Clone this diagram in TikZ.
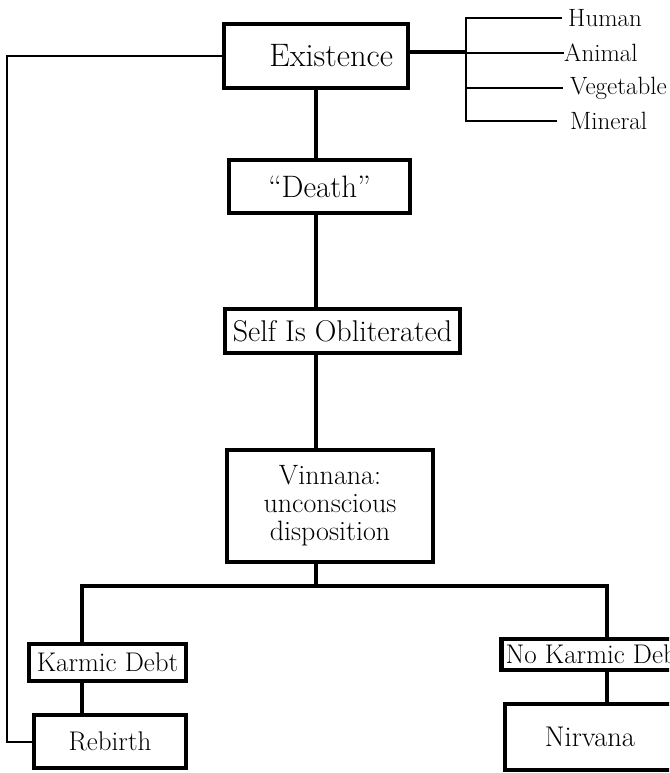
\documentclass[tikz,border=0pt]{standalone}
\begin{document}
\begin{tikzpicture}[x=1pt,y=-1pt,
  box/.style={draw,line width=4.5pt,fill=white,inner sep=3pt,align=center},
  link/.style={line width=4pt},
  twig/.style={line width=2.5pt},
  kind/.style={anchor=west,inner sep=0pt,font=\fontsize{25}{27}\selectfont}]
  \useasboundingbox (0,0) rectangle (669,773);
  \clip (0,0) rectangle (669,773);
  \node[box,minimum width=184pt,minimum height=64pt,text width=154pt,align=right,font=\fontsize{32.5}{34}\selectfont] (exist) at (316,56) {Existence};
  \node[box,minimum width=181pt,minimum height=53pt,font=\fontsize{31}{33}\selectfont] (death) at (319.5,186.5) {``Death''};
  \node[box,minimum width=235pt,minimum height=44pt,font=\fontsize{30}{32}\selectfont] (obliter) at (342.5,331) {Self Is Obliterated};
  \node[box,minimum width=206pt,minimum height=112pt,font=\fontsize{28}{28}\selectfont] (vinnana) at (330,506) {Vinnana:\\unconscious\\disposition};
  \node[box,minimum width=157pt,minimum height=37pt,font=\fontsize{27}{29}\selectfont] (karmic) at (107.5,662.5) {Karmic Debt};
  \node[box,minimum width=152pt,minimum height=53pt,font=\fontsize{27}{29}\selectfont] (rebirth) at (110,741.5) {Rebirth};
  \node[box,minimum width=189pt,minimum height=31pt,font=\fontsize{27}{29}\selectfont] (nokarmic) at (596,654.5) {No Karmic Debt};
  \node[box,minimum width=170pt,minimum height=66pt,font=\fontsize{28.5}{30}\selectfont] (nirvana) at (590,737) {Nirvana};
  \node[kind] (human) at (568,18) {Human};
  \node[kind] (animal) at (564,53) {Animal};
  \node[kind] (vegetable) at (570,88) {Vegetable};
  \node[kind] (mineral) at (570,121) {Mineral};
  \coordinate (fork) at (466,52);
  \coordinate (back) at (7,57);
  \coordinate (splitL) at (82,586);
  \coordinate (splitR) at (607,586);
  \draw[link] (exist.east |- fork) -- (fork);
  \draw[twig] ([xshift=-6pt]human.west) -| (fork |- mineral.west) -- ([xshift=-13pt]mineral.west);
  \draw[twig] (fork |- animal.west) -- (animal.west);
  \draw[twig] (fork |- vegetable.west) -- ([xshift=-7pt]vegetable.west);
  \draw[line width=2pt] (exist.west) -- (exist.west -| back) -- (back |- rebirth.west) -- (rebirth.west);
  \draw[link] (exist.south) -- (exist.south |- death.north);
  \draw[link] (exist.south |- death.south) -- (exist.south |- obliter.north);
  \draw[link] (exist.south |- obliter.south) -- (exist.south |- vinnana.north);
  \draw[link] (exist.south |- vinnana.south) -- (exist.south |- splitL);
  \draw[link] (splitL |- karmic.north) -- (splitL) -- (splitR) -- (splitR |- nokarmic.north);
  \draw[link] (splitL |- karmic.south) -- (splitL |- rebirth.north);
  \draw[link] (splitR |- nokarmic.south) -- (splitR |- nirvana.north);
\end{tikzpicture}
\end{document}
